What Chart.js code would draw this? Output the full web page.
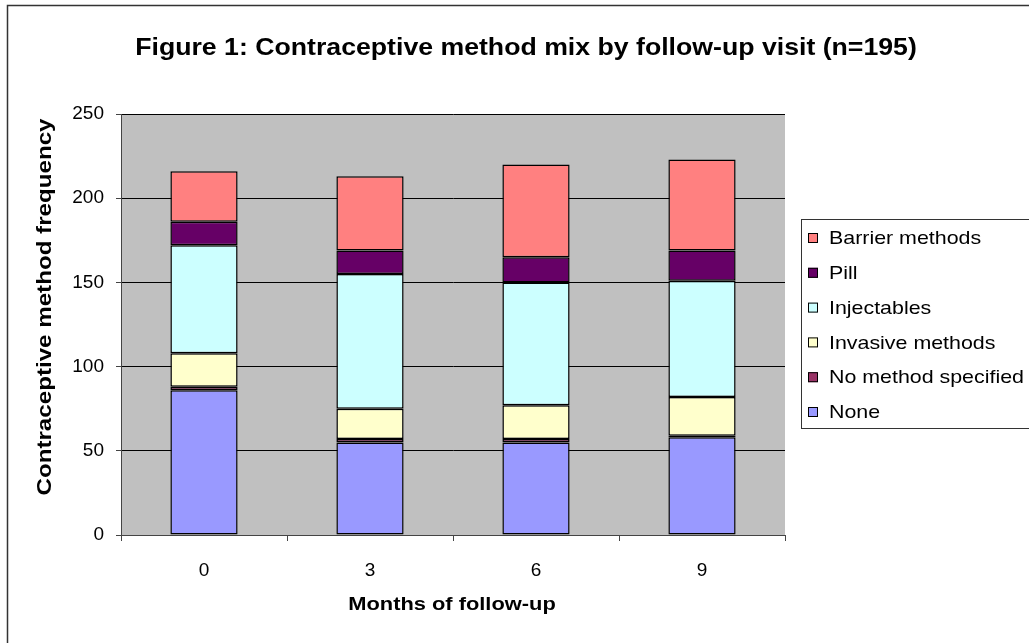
<!DOCTYPE html>
<html>
<head>
<meta charset="utf-8">
<script src="https://cdn.jsdelivr.net/npm/chart.js@4.4.1/dist/chart.umd.min.js"></script>
<style>
  html, body { margin: 0; padding: 0; background: #ffffff; }
  #wrap { width: 1029px; height: 643px; }
</style>
</head>
<body>
<div id="wrap"><canvas id="chart" width="1029" height="643"></canvas></div>
<script>
// Follow-up visits (months) and method counts per visit
const months = ['0', '3', '6', '9'];
const noneValues = [86, 55, 55, 58];
const noMethodValues = [2, 2, 2, 1];
const invasiveValues = [20, 18, 20, 23];
const injectableValues = [64, 80, 73, 69];
const pillValues = [14, 14, 15, 18];
const barrierValues = [30, 44, 55, 54];

const seriesNames = ['None', 'No method specified', 'Invasive methods', 'Injectables', 'Pill', 'Barrier methods'];
const seriesColors = ['#9999FF', '#993366', '#FFFFCC', '#CCFFFF', '#660066', '#FF8080'];
const seriesValues = [noneValues, noMethodValues, invasiveValues, injectableValues, pillValues, barrierValues];

const titleText = 'Figure 1: Contraceptive method mix by follow-up visit (n=195)';
const xTitleText = 'Months of follow-up';
const yTitleText = 'Contraceptive method frequency';

const FONT = '"Liberation Sans", Arial, Helvetica, sans-serif';
const WIDE = 1.15; // horizontal widening of the label glyphs

// Draws a text run widened along its own direction
function wideText(ctx, text, x, y, font, align, angle) {
  ctx.save();
  ctx.font = font;
  ctx.fillStyle = '#000000';
  ctx.textBaseline = 'middle';
  ctx.translate(x, y);
  if (angle) ctx.rotate(angle);
  ctx.scale(WIDE, 1);
  ctx.textAlign = align;
  ctx.fillText(text, 0, 0);
  ctx.restore();
}

const decorations = {
  id: 'decorations',
  beforeDraw(chart) {
    const { ctx, chartArea: a } = chart;
    ctx.save();
    ctx.fillStyle = '#ffffff';
    ctx.fillRect(0, 0, chart.width, chart.height);
    // outer frame
    ctx.strokeStyle = '#333333';
    ctx.lineWidth = 1.5;
    ctx.strokeRect(7.5, 5.5, 1200, 800);
    // plot background
    ctx.fillStyle = '#C0C0C0';
    ctx.fillRect(a.left, a.top, a.right - a.left, a.bottom - a.top);
    ctx.restore();
  },
  afterDraw(chart) {
    const { ctx } = chart;
    wideText(ctx, titleText, 526, 49, 'bold 23.2px ' + FONT, 'center');
    wideText(ctx, xTitleText, 452, 605, 'bold 19px ' + FONT, 'center');
    wideText(ctx, yTitleText, 45, 307, 'bold 21px ' + FONT, 'center', -Math.PI / 2);

    // legend, listed top-down from the last stacked series
    const lx = 801, ly = 219, lh = 209;
    ctx.save();
    ctx.fillStyle = '#ffffff';
    ctx.fillRect(lx, ly, 300, lh);
    ctx.strokeStyle = '#333333';
    ctx.lineWidth = 1;
    ctx.strokeRect(lx + 0.5, ly + 0.5, 300, lh);
    const sets = chart.data.datasets.slice().reverse();
    sets.forEach((ds, i) => {
      const cy = 238 + i * 34.8;
      ctx.fillStyle = ds.backgroundColor;
      ctx.fillRect(808, cy - 5, 10, 10);
      ctx.strokeStyle = '#000000';
      ctx.strokeRect(808.5, cy - 4.5, 9, 9);
      wideText(ctx, ds.label, 829, cy + 1, '18.6px ' + FONT, 'left');
    });
    ctx.restore();
  }
};

const datasets = seriesNames.map((name, i) => ({
  label: name,
  data: seriesValues[i],
  backgroundColor: seriesColors[i],
  borderColor: '#000000',
  borderWidth: 1.5,
  borderSkipped: false,
  barPercentage: 0.405,
  categoryPercentage: 1.0
}));

new Chart(document.getElementById('chart'), {
  type: 'bar',
  data: { labels: months, datasets },
  options: {
    responsive: false,
    animation: false,
    layout: { padding: { left: 0, top: 114, right: 244, bottom: 0 } },
    plugins: { legend: { display: false }, title: { display: false }, tooltip: { enabled: false } },
    scales: {
      x: {
        stacked: true,
        afterFit(scale) { scale.height = 108; },
        grid: { offset: true, drawOnChartArea: false, tickLength: 6, color: '#444444', tickColor: '#444444' },
        border: { color: '#444444', width: 1 },
        ticks: { color: '#000000', padding: 18, font: { family: FONT, size: 19 } }
      },
      y: {
        stacked: true,
        min: 0,
        max: 250,
        afterFit(scale) { scale.width = 121; },
        grid: { color: '#000000', tickLength: 5, tickColor: '#444444' },
        border: { color: '#444444', width: 1 },
        ticks: { stepSize: 50, color: '#000000', padding: 12, font: { family: FONT, size: 19 } }
      }
    }
  },
  plugins: [decorations]
});
</script>
</body>
</html>
